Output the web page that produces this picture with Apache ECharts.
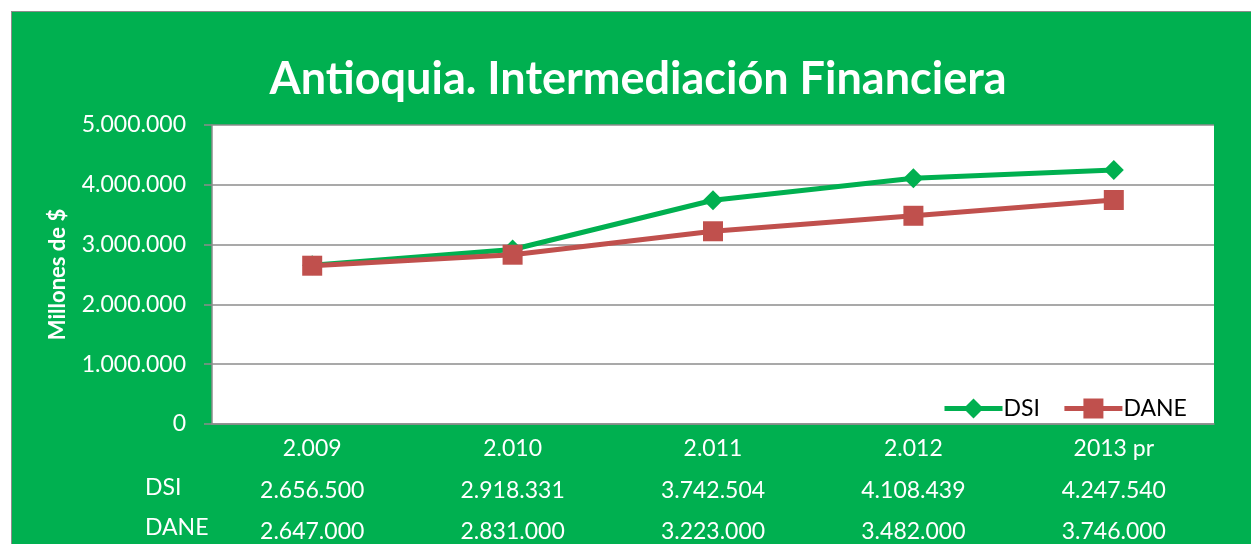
<!DOCTYPE html>
<html>
<head>
<meta charset="utf-8">
<script src="https://cdn.jsdelivr.net/npm/echarts@6/dist/echarts.min.js"></script>
<style>
  html, body { margin: 0; padding: 0; background: #ffffff; }
  #frame { position: absolute; left: 11px; top: 11px; width: 1240px; height: 533px;
           background: #00b050; border-left: 1px solid #8c8c8c; border-top: 1px solid #8c8c8c; box-sizing: border-box; }
  #chart { position: absolute; left: 0; top: 0; width: 1251px; height: 544px; }
</style>
</head>
<body>
<div id="frame"></div>
<div id="chart"></div>
<script>
const categories = ["2.009", "2.010", "2.011", "2.012", "2013 pr"];
const dsiValues = [2656500, 2918331, 3742504, 4108439, 4247540];
const daneValues = [2647000, 2831000, 3223000, 3482000, 3746000];
const yTicks = [0, 1000000, 2000000, 3000000, 4000000, 5000000];

const FONT = "Lato, 'Open Sans', sans-serif";

function fmt(v) {
  return String(v).replace(/\B(?=(\d{3})+(?!\d))/g, ".");
}

const chart = echarts.init(document.getElementById("chart"), null, { renderer: "canvas" });

chart.setOption({
  animation: false,
  backgroundColor: "transparent",
  textStyle: { fontFamily: FONT },
  title: {
    text: "Antioquia. Intermediación Financiera",
    left: 633,
    textAlign: "center",
    top: 52,
    textStyle: { color: "#ffffff", fontSize: 45, fontWeight: "bold", fontFamily: FONT }
  },
  legend: {
    left: 937,
    top: 392,
    itemWidth: 58,
    itemHeight: 25,
    itemGap: 22,
    lineStyle: { width: 5 },
    textStyle: { color: "#000000", fontSize: 23, fontFamily: FONT, padding: [0, 0, 0, -4] },
    data: ["DSI", "DANE"]
  },
  grid: { left: 212, right: 37, top: 125, bottom: 120 },
  graphic: [
    { type: "rect", left: 212, top: 125, shape: { width: 1002, height: 299 }, style: { fill: "#ffffff" }, z: -1 },
    { type: "text", x: 145, y: 488, style: { text: "DSI", fill: "#ffffff", font: "23px " + FONT, verticalAlign: "middle" } },
    { type: "text", x: 145, y: 528, style: { text: "DANE", fill: "#ffffff", font: "23px " + FONT, verticalAlign: "middle" } }
  ],
  xAxis: {
    type: "category",
    data: categories,
    axisLine: { lineStyle: { color: "#8c8c8c", width: 1.5 } },
    axisTick: { show: false },
    axisLabel: {
      margin: 4,
      formatter: (value, idx) =>
        "{c|" + value + "}\n{v|" + fmt(dsiValues[idx]) + "}\n{v|" + fmt(daneValues[idx]) + "}",
      rich: {
        c: { color: "#ffffff", fontSize: 23, fontFamily: FONT, lineHeight: 42 },
        v: { color: "#ffffff", fontSize: 23, fontFamily: FONT, lineHeight: 41 }
      }
    }
  },
  yAxis: {
    type: "value",
    min: yTicks[0],
    max: yTicks[yTicks.length - 1],
    interval: 1000000,
    name: "Millones de $",
    nameLocation: "middle",
    nameGap: 143,
    nameTextStyle: { color: "#ffffff", fontSize: 22, fontWeight: "bold", fontFamily: FONT },
    axisLine: { show: true, lineStyle: { color: "#8c8c8c", width: 1.5 } },
    axisTick: { show: true, length: 8, lineStyle: { color: "#8c8c8c", width: 1.5 } },
    axisLabel: {
      color: "#ffffff",
      fontSize: 23,
      fontFamily: FONT,
      margin: 26,
      formatter: (v) => fmt(v)
    },
    splitLine: { lineStyle: { color: "#8c8c8c", width: 1.5 } }
  },
  series: [
    {
      name: "DSI",
      type: "line",
      data: dsiValues,
      symbol: "diamond",
      symbolSize: 20,
      lineStyle: { color: "#00b050", width: 5 },
      itemStyle: { color: "#00b050" },
      z: 2
    },
    {
      name: "DANE",
      type: "line",
      data: daneValues,
      symbol: "rect",
      symbolSize: 20,
      lineStyle: { color: "#c0504d", width: 5 },
      itemStyle: { color: "#c0504d" },
      z: 3
    }
  ]
});
</script>
</body>
</html>
